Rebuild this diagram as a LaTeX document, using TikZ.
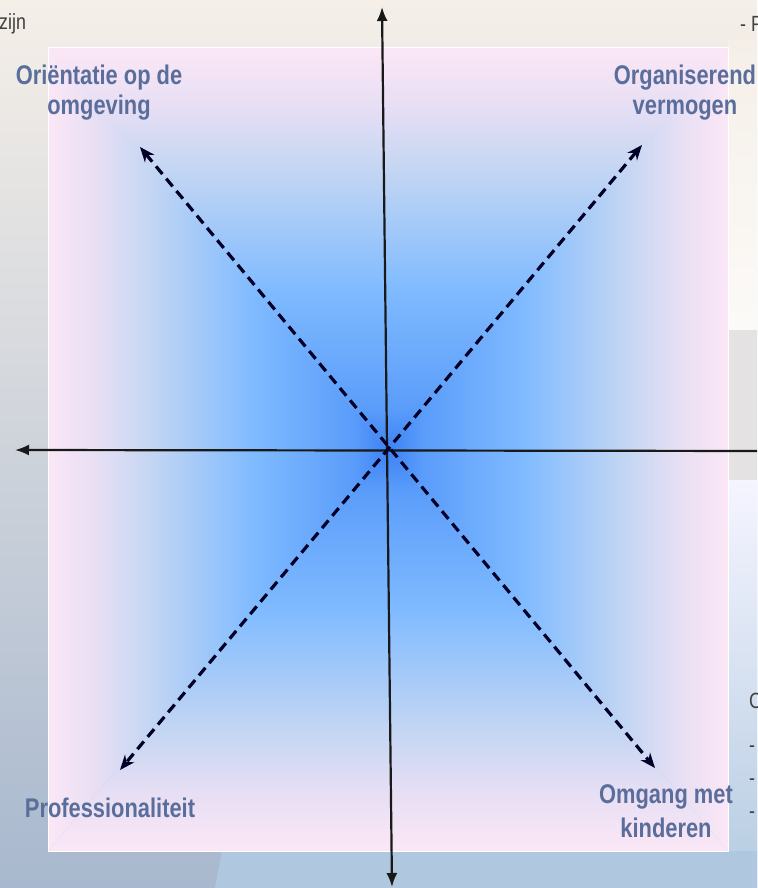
\documentclass[tikz,border=0pt]{standalone}
\usepackage{fontspec}
\newfontfamily\lblfont[FakeStretch=0.81]{Liberation Sans}
\usetikzlibrary{arrows.meta}
\definecolor{slidetop}{HTML}{F5EFE8}
\definecolor{slidemid}{HTML}{DEDADA}
\definecolor{slidebot}{HTML}{A8B8CE}
\definecolor{slidelight}{HTML}{AFC7DF}
\definecolor{lblblue}{HTML}{5A6E9C}
\definecolor{cblue}{HTML}{3C82F4}
\definecolor{cblueb}{HTML}{5A9CFA}
\definecolor{cmid}{HTML}{80BBFF}
\definecolor{clight}{HTML}{C4D6F3}
\definecolor{clav}{HTML}{E8DFF4}
\definecolor{cpink}{HTML}{FBE7F6}
% edge (25bp) to centre (75bp)
\pgfdeclarehorizontalshading{boxfade}{100bp}{color(0bp)=(cpink); color(25bp)=(cpink); color(32bp)=(clav); color(40bp)=(clight); color(55bp)=(cmid); color(70bp)=(cblueb); color(75bp)=(cblue); color(100bp)=(cblue)}

\begin{document}
\begin{tikzpicture}[x=1pt,y=-1pt,
  axis/.style={line width=2.2pt,black!90,{Latex[length=14pt,width=11pt]}-{Latex[length=14pt,width=11pt]}},
  diag/.style={line width=3.2pt,black!85!blue,dash pattern=on 10pt off 6pt,{Stealth[length=15pt,width=12pt]}-{Stealth[length=15pt,width=12pt]}},
  lbl/.style={inner sep=0pt,align=center,text=lblblue,font=\lblfont\bfseries\fontsize{27}{30}\selectfont},
  slidetxt/.style={inner sep=0pt,text=black!75,font=\lblfont\fontsize{22}{26}\selectfont}]
\useasboundingbox (0,0) rectangle (757,888);
\clip (0,0) rectangle (757,888);
% slide behind the picture
\shade[top color=slidetop,middle color=slidemid,bottom color=slidebot] (0,0) rectangle (757,888);
\shade[top color=slidetop,bottom color=white!70!slidetop] (728,40) rectangle (757,330);
\fill[slidemid!95!black!60!white] (728,330) rectangle (757,480);
\shade[top color=blue!4!white,bottom color=slidelight!85!white] (728,480) rectangle (757,851);
\fill[slidelight] (222,851) -- (757,851) -- (757,888) -- (215,888) -- cycle;
\node[slidetxt,anchor=base west] (zijn) at (-1,30) {zijn};
\node[slidetxt,anchor=base west] (pfrag) at (740,32) {- P};
\node[slidetxt,anchor=base west] (cfrag) at (749,708) {C};
\foreach \y [count=\i] in {752,785,818} {\node[slidetxt,anchor=base west] (bul\i) at (749,\y) {-};}
% the four quadrants, fading from the centre to each edge
\coordinate (c) at (388,449.5);
\begin{scope} \clip (48,48) -- (c) -- (48,851) -- cycle; \shade[shading=boxfade] (48,48) rectangle (388,851); \end{scope}
\begin{scope} \clip (728,48) -- (c) -- (728,851) -- cycle; \shade[shading=boxfade,shading angle=180] (388,48) rectangle (728,851); \end{scope}
\begin{scope} \clip (48,48) -- (c) -- (728,48) -- cycle; \shade[shading=boxfade,shading angle=-90] (48,48) rectangle (728,449.5); \end{scope}
\begin{scope} \clip (48,851) -- (c) -- (728,851) -- cycle; \shade[shading=boxfade,shading angle=90] (48,449.5) rectangle (728,851); \end{scope}
\draw[white,line width=1pt] (48,48) rectangle (728,851);
\coordinate (up) at (382,7); \coordinate (down) at (392,887);
\coordinate (left) at (15,450); \coordinate (right) at (774,451);
\coordinate (nw) at (140,147); \coordinate (se) at (655,768);
\coordinate (ne) at (642,145); \coordinate (sw) at (120,770);
\draw[axis] (down) -- (up);
\draw[axis] (left) -- (right);
\draw[diag] (nw) -- (se);
\draw[diag] (ne) -- (sw);
\node[lbl,anchor=base] (ori) at (99,115) {Oriëntatie op de\\omgeving};
\node[lbl,anchor=base] (org) at (685,115) {Organiserend\\vermogen};
\node[lbl,anchor=base] (prof) at (110,817) {Professionaliteit};
\node[lbl,anchor=base,font=\lblfont\bfseries\fontsize{27}{34}\selectfont] (omg) at (666,837) {Omgang met\\kinderen};
\end{tikzpicture}
\end{document}
